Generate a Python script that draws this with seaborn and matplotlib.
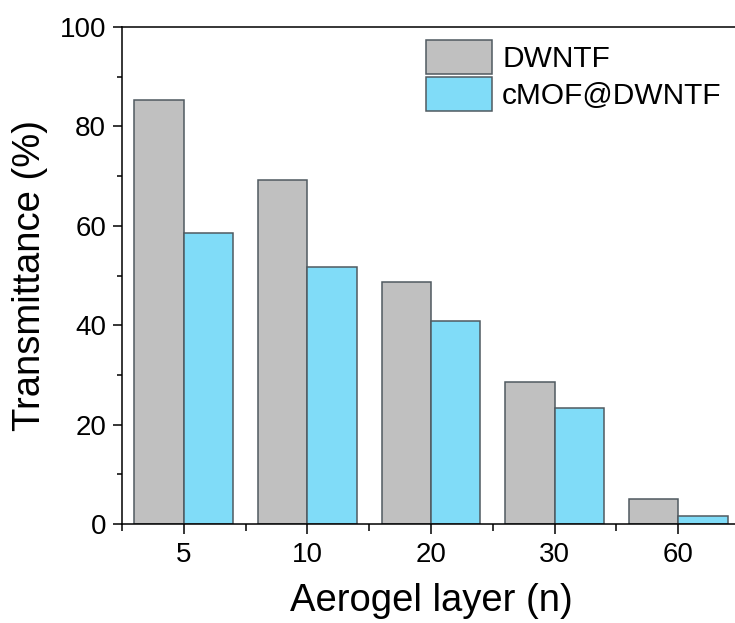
import matplotlib
matplotlib.use("Agg")
import matplotlib.pyplot as plt
import seaborn as sns
import pandas as pd
from matplotlib.ticker import FixedLocator, MultipleLocator

layers = ["5", "10", "20", "30", "60"]
dwntf = [85.3, 69.2, 48.7, 28.6, 5.1]
cmof_dwntf = [58.5, 51.7, 40.8, 23.3, 1.7]
series_names = ["DWNTF", "cMOF@DWNTF"]
y_ticks = [0, 20, 40, 60, 80, 100]

df = pd.DataFrame({
    "layer": layers * 2,
    "value": dwntf + cmof_dwntf,
    "series": [series_names[0]] * len(layers) + [series_names[1]] * len(layers),
})

sns.set_theme(style="ticks")
plt.rcParams["font.family"] = ["Liberation Sans", "DejaVu Sans"]
plt.rcParams["text.color"] = "black"
plt.rcParams["axes.labelcolor"] = "black"

fig = plt.figure(figsize=(7.35, 6.23), dpi=100)
ax = fig.add_axes([122 / 735, 1 - 524 / 623, 618 / 735, 497 / 623])

sns.barplot(data=df, x="layer", y="value", hue="series", order=layers,
            hue_order=series_names, palette=["#C0C0C0", "#80DCF8"],
            width=0.8, edgecolor="#505a60", linewidth=1.1, saturation=1,
            ax=ax)

ax.set_xlim(-0.5, 4.5)
ax.set_ylim(0, 100)
ax.set_yticks(y_ticks)
ax.yaxis.set_minor_locator(MultipleLocator(10))
ax.xaxis.set_minor_locator(FixedLocator([i - 0.5 for i in range(len(layers) + 1)]))

for side in ["left", "bottom", "top"]:
    ax.spines[side].set_linewidth(1.1)
    ax.spines[side].set_color("black")
ax.spines["right"].set_visible(False)

ax.tick_params(axis="both", which="major", direction="out", length=6.5, width=1.1,
               labelsize=20, pad=5, colors="black", top=False, right=False)
ax.tick_params(axis="both", which="minor", direction="out", length=3.8, width=1.1,
               top=False, right=False, colors="black")
ax.tick_params(axis="x", which="major", length=7, pad=6)
ax.tick_params(axis="x", which="minor", length=5)

ax.set_xlabel("Aerogel layer (n)", fontsize=27.5, labelpad=11, color="black")
ax.set_ylabel("Transmittance (%)", fontsize=27.5, labelpad=8, color="black")

leg = ax.legend(loc="upper left", bbox_to_anchor=(0.492, 0.974), frameon=False,
                fontsize=21.5, handlelength=2.2, handleheight=1.4,
                labelspacing=0.08, handletextpad=0.35, borderpad=0, borderaxespad=0)
for t in leg.get_texts():
    t.set_color("black")

fig.savefig("out.png", dpi=100)
